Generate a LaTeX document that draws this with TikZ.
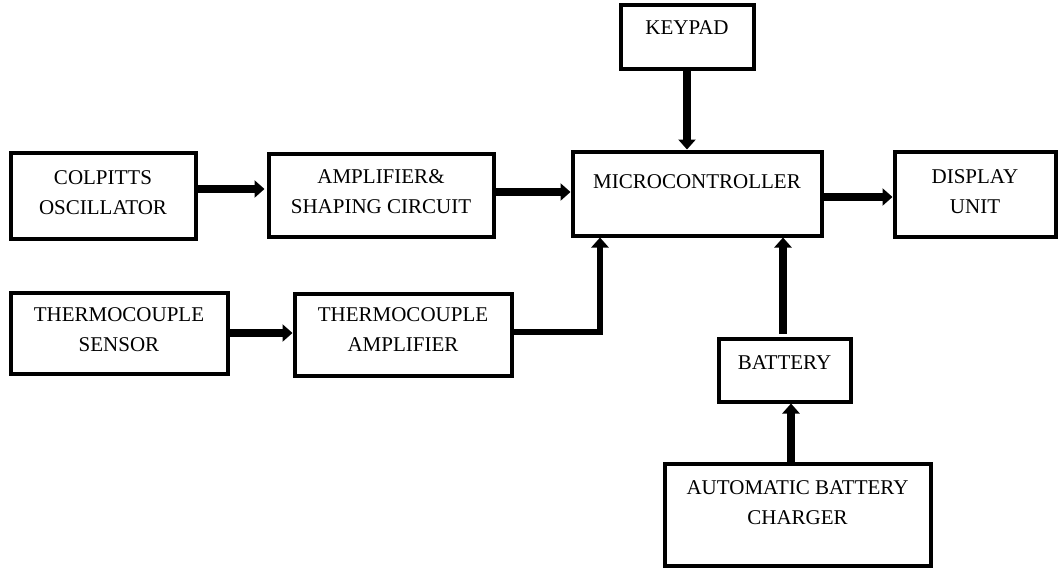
\documentclass[tikz,border=0pt]{standalone}
\usepackage{fontspec}
\setmainfont{Liberation Serif}
\usepackage{tikz}
\usetikzlibrary{arrows.meta, positioning}

\begin{document}
\begin{tikzpicture}[
    x=1pt, y=-1pt,
    box/.style={draw, line width=4pt, align=center, text height=0pt, text depth=0pt,
                font=\fontsize{21}{30}\selectfont, inner sep=0pt},
    arrow/.style={-{Triangle[length=10pt, width=17pt]}, line width=7.5pt},
    thin arrow/.style={arrow, line width=5.5pt},
]
\useasboundingbox (0,0) rectangle (1058,571);

\node[box, minimum width=133pt, minimum height=64pt, text depth=4pt]  (key)  at (687,36.5)  {KEYPAD};
\node[box, minimum width=249pt, minimum height=84pt, text depth=10pt] (micro) at (697,193.5) {MICROCONTROLLER};
\node[box, minimum width=185pt, minimum height=86pt, text height=38pt] (osc)  at (103,195.5) {COLPITTS\\OSCILLATOR};
\node[box, minimum width=225pt, minimum height=83pt, text height=37pt] (amp)  at (381,195)   {AMPLIFIER\&\\SHAPING CIRCUIT};
\node[box, minimum width=161pt, minimum height=85pt, text height=39pt] (disp) at (975,194)   {DISPLAY\\UNIT};
\node[box, minimum width=217pt, minimum height=81pt, text height=37pt] (tcs)  at (119,333)   {THERMOCOUPLE\\SENSOR};
\node[box, minimum width=217pt, minimum height=82pt, text height=34pt] (tca)  at (403,334.5) {THERMOCOUPLE\\AMPLIFIER};
\node[box, minimum width=132pt, minimum height=63pt, text depth=2pt]  (bat)  at (784.5,370) {BATTERY};
\node[box, minimum width=266pt, minimum height=102pt, text height=20pt] (chg) at (797.5,514.5) {AUTOMATIC BATTERY\\CHARGER};

% signal path
\draw[arrow, shorten >=2pt] ([yshift=6.5pt]osc.east) -- ([yshift=6.5pt]osc.east -| amp.west);
\draw[arrow] ([yshift=3pt]amp.east) -- ([yshift=3pt]amp.east -| micro.west);
\draw[arrow] ([yshift=-3.5pt]micro.east) -- ([yshift=-3.5pt]micro.east -| disp.west);
\draw[arrow] (key.south) -- (key.south |- micro.north);

% temperature path
\draw[arrow] (tcs.east) -- (tcs.east -| tca.west);
\draw[thin arrow] ([yshift=2.5pt]tca.east) -| ([xshift=-97pt]micro.south);

% supply
\draw[arrow, shorten <=3pt] ([xshift=-1.5pt]bat.north) -- ([xshift=-1.5pt]bat.north |- micro.south);
\draw[arrow] ([xshift=-6.5pt]chg.north) -- ([xshift=-6.5pt]chg.north |- bat.south);

\end{tikzpicture}
\end{document}
